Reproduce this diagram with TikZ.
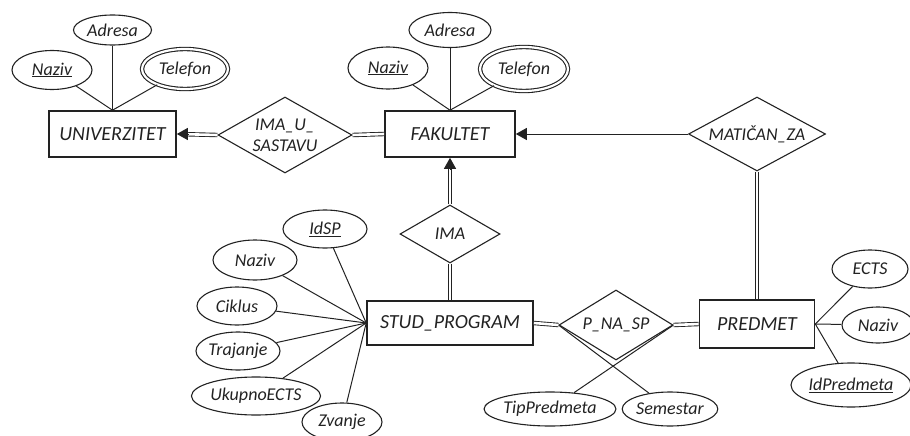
\documentclass[tikz,border=0pt]{standalone}
\usepackage{fontspec}
\setmainfont{Carlito}
\usetikzlibrary{shapes.geometric,arrows.meta}
\definecolor{ink}{HTML}{222222}
\begin{document}
\begin{tikzpicture}[x=1pt,y=-1pt,
  entity/.style={draw=ink, line width=1.6pt, minimum height=46pt, inner sep=0pt,
    text=ink, font=\fontsize{20}{22}\selectfont\itshape},
  attr/.style={draw=ink, ellipse, line width=1.1pt, inner sep=0pt,
    text=ink, font=\fontsize{18}{20}\selectfont\itshape},
  mattr/.style={attr, double, double distance=2.2pt},
  rel/.style={draw=ink, diamond, line width=1.1pt, inner sep=0pt, align=center,
    text=ink, font=\fontsize{18}{21}\selectfont\itshape},
  link/.style={draw=ink, line width=1pt},
  dlink/.style={draw=ink, line width=0.9pt, double, double distance=2.6pt},
  tipend/.style={draw=ink, line width=1pt, -{Triangle[length=11pt,width=12pt]}}
]
\useasboundingbox (0,0) rectangle (910,436);

% entities
\node[entity, minimum width=127pt] (uni) at (112.5,134) {UNIVERZITET};
\node[entity, minimum width=130pt] (fak) at (450,134) {FAKULTET};
\node[entity, minimum width=166pt, minimum height=44pt] (sp) at (450,323) {STUD\_PROGRAM};
\node[entity, minimum width=115pt, minimum height=48pt] (pred) at (757,324) {PREDMET};

% relationships
\node[rel, aspect=1.76, minimum width=134pt, minimum height=76pt] (ius) at (285,135) {IMA\_U\_\\SASTAVU};
\node[rel, aspect=1.85, minimum width=137pt, minimum height=74pt] (mat) at (757,134) {MATIČAN\_ZA};
\node[rel, aspect=1.72, minimum width=100pt, minimum height=58pt] (ima) at (450,234) {IMA};
\node[rel, aspect=1.63, minimum width=114pt, minimum height=70pt] (pns) at (616,325) {P\_NA\_SP};

% attributes of UNIVERZITET
\node[attr, minimum width=80pt, minimum height=39pt] (unaz) at (52,70) {\underline{Naziv}};
\node[attr, minimum width=78pt, minimum height=30pt] (uadr) at (112.5,30) {Adresa};
\node[mattr, minimum width=86pt, minimum height=40pt] (utel) at (185,69) {Telefon};

% attributes of FAKULTET
\node[attr, minimum width=80pt, minimum height=42pt] (fnaz) at (388,68) {\underline{Naziv}};
\node[attr, minimum width=82pt, minimum height=35pt] (fadr) at (450,30) {Adresa};
\node[mattr, minimum width=88pt, minimum height=44pt] (ftel) at (524,69) {Telefon};

% attributes of STUD_PROGRAM
\node[attr, minimum width=84pt, minimum height=38pt] (sid) at (325,229) {\underline{IdSP}};
\node[attr, minimum width=84pt, minimum height=40pt] (snaz) at (255,260) {Naziv};
\node[attr, minimum width=80pt, minimum height=38pt] (scik) at (237,306) {Ciklus};
\node[attr, minimum width=84pt, minimum height=38pt] (straj) at (238,351) {Trajanje};
\node[attr, minimum width=118pt, minimum height=38pt] (sects) at (256,396) {UkupnoECTS};
\node[attr, minimum width=80pt, minimum height=38pt] (szv) at (342,422) {Zvanje};

% attributes of P_NA_SP
\node[attr, minimum width=126pt, minimum height=34pt] (tipp) at (550,409) {TipPredmeta};
\node[attr, minimum width=90pt, minimum height=34pt] (sem) at (670,409) {Semestar};

% attributes of PREDMET
\node[attr, minimum width=76pt, minimum height=38pt] (pects) at (870,269) {ECTS};
\node[attr, minimum width=72pt, minimum height=36pt] (pnaz) at (878,325) {Naziv};
\node[attr, minimum width=114pt, minimum height=44pt] (pid) at (851,385) {\underline{IdPredmeta}};

% attribute links
\foreach \a in {unaz,uadr,utel} \draw[link] (\a) -- (uni.north);
\foreach \a in {fnaz,fadr,ftel} \draw[link] (\a) -- (fak.north);
\foreach \a in {sid,snaz,scik,straj,sects,szv} \draw[link] (\a) -- (sp.west);
\foreach \a in {pects,pnaz,pid} \draw[link] (\a) -- (pred.east);
\draw[link] (pns.west) -- (sem);
\draw[link] (pns.east) -- (tipp);

% relationship links (double lines end at the filled arrow tips)
\draw[dlink, shorten >=9pt] (ius.west) -- (uni.east);
\draw[tipend] ([xshift=11pt]uni.east) -- (uni.east);
\draw[dlink] (ius.east) -- (fak.west);
\draw[link, tipend] (mat.west) -- (fak.east);
\draw[dlink] (mat.south) -- (pred.north);
\draw[dlink, shorten >=9pt] (ima.north) -- (fak.south);
\draw[tipend] ([yshift=-11pt]fak.south) -- (fak.south);
\draw[dlink] (ima.south) -- (sp.north);
\draw[dlink] (sp.east) -- (pns.west);
\draw[dlink] (pns.east) -- (pred.west);
\end{tikzpicture}
\end{document}
